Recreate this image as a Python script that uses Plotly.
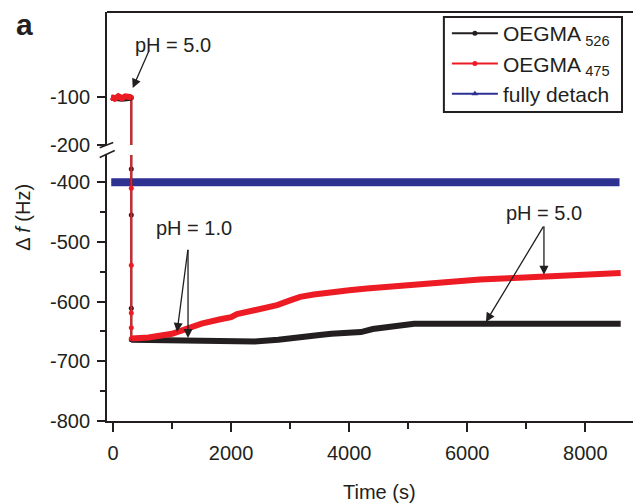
import plotly.graph_objects as go

# ---------------- data ----------------
time_pre = [-30, 30, 90, 150, 210, 270, 310]
oegma526_pre = [-101, -103, -102, -103, -102, -103, -101]
oegma475_pre = [-99, -103, -98, -102, -98, -101, -100]

time_drop_526 = [310, 310, 310, 310, 310]
oegma526_drop = [-101, -378, -455, -611, -664]
time_drop_475 = [310, 310, 310, 310, 310, 310]
oegma475_drop = [-100, -410, -539, -619, -644, -662]

time_526 = [310, 800, 1500, 2000, 2400, 2800, 3170, 3500, 3700, 4200, 4400,
            4600, 4900, 5100, 6000, 7000, 8000, 8600]
oegma526 = [-664, -665, -666, -667, -667, -664, -661, -656, -654, -651, -646,
            -643, -640, -637, -637, -637, -637, -637]

time_475 = [310, 600, 1000, 1270, 1500, 1800, 2000, 2100, 2300, 2550, 2780,
            3000, 3170, 3400, 3730, 4000, 4300, 4860, 5300, 5875, 6215, 6700,
            7280, 7800, 8300, 8600]
oegma475 = [-662, -660, -654, -644, -637, -630, -626, -621, -617, -612, -606,
            -598, -592, -588, -583, -581, -578, -573, -570, -566, -563, -561,
            -559, -556, -554, -552]

time_detach = [-30, 2000, 4000, 6000, 8580]
detach = [-400, -400, -400, -400, -400]

x_ticks = [0, 2000, 4000, 6000, 8000]
y_ticks_low = [-800, -700, -600, -500, -400]
y_ticks_high = [-200, -100]

# ---------------- style ----------------
BLACK = "#231f20"
RED = "#ed1c24"
BLUE = "#2e3192"
FONT = "Liberation Sans, Arial, sans-serif"

OFF = 8                      # default page body margin
W, H = 641 - OFF, 504 - OFF  # figure size (visible part)
L, R, T, B = 107.3 - OFF, 0, 12 - OFF, 504 - 421
PW = W - L - R
PH = H - T - B


def px2paper(sx, sy):
    """screenshot pixel -> paper coordinates"""
    return (sx - 107.3) / PW, (421 - sy) / PH


fig = go.Figure()

for yax in ("y", "y2"):
    fig.add_trace(go.Scatter(x=time_detach, y=detach, mode="lines", yaxis=yax,
                             line=dict(color=BLUE, width=8), showlegend=False,
                             hoverinfo="skip"))
    fig.add_trace(go.Scatter(x=time_drop_526, y=oegma526_drop, mode="lines+markers",
                             yaxis=yax, line=dict(color=BLACK, width=2),
                             marker=dict(size=5, color=BLACK), showlegend=False,
                             hoverinfo="skip"))
    fig.add_trace(go.Scatter(x=time_drop_475, y=oegma475_drop, mode="lines+markers",
                             yaxis=yax, line=dict(color=RED, width=2),
                             marker=dict(size=5, color=RED), showlegend=False,
                             hoverinfo="skip"))

fig.add_trace(go.Scatter(x=time_pre, y=oegma526_pre, mode="lines", yaxis="y2",
                         line=dict(color=BLACK, width=6), showlegend=False))
fig.add_trace(go.Scatter(x=time_pre, y=oegma475_pre, mode="lines", yaxis="y2",
                         line=dict(color=RED, width=6), showlegend=False))
fig.add_trace(go.Scatter(x=time_526, y=oegma526, mode="lines", yaxis="y",
                         line=dict(color=BLACK, width=6), showlegend=False))
fig.add_trace(go.Scatter(x=time_475, y=oegma475, mode="lines", yaxis="y",
                         line=dict(color=RED, width=6), showlegend=False))

# legend entries
fig.add_trace(go.Scatter(x=[None], y=[None], mode="lines+markers",
                         name="OEGMA<sub> 526</sub>",
                         line=dict(color=BLACK, width=2),
                         marker=dict(size=5, color=BLACK, symbol="circle")))
fig.add_trace(go.Scatter(x=[None], y=[None], mode="lines+markers",
                         name="OEGMA<sub> 475</sub>",
                         line=dict(color=RED, width=2),
                         marker=dict(size=5, color=RED, symbol="circle")))
fig.add_trace(go.Scatter(x=[None], y=[None], mode="lines+markers",
                         name="fully detach",
                         line=dict(color=BLUE, width=2),
                         marker=dict(size=6, color=BLUE, symbol="triangle-up")))

axis_common = dict(showline=True, linecolor=BLACK, linewidth=2, ticks="outside",
                   tickcolor=BLACK, tickwidth=1.5, showgrid=False, zeroline=False,
                   tickfont=dict(family=FONT, size=20, color=BLACK))

x0 = -(113.3 - 107.3) / 0.059
fig.update_layout(
    width=W, height=H,
    margin=dict(l=L, r=R, t=T, b=B, pad=0),
    paper_bgcolor="white", plot_bgcolor="white",
    font=dict(family=FONT, size=20, color=BLACK),
    xaxis=dict(range=[x0, x0 + PW / 0.059], tickvals=x_ticks, ticklen=9,
               ticklabelstandoff=4, anchor="y",
               minor=dict(dtick=1000, ticklen=6, tickcolor=BLACK, tickwidth=1.5,
                          ticks="outside", showgrid=False),
               **axis_common),
    yaxis=dict(domain=[0, (421 - 155) / PH], range=[-800, -800 + (421 - 155) / 0.597],
               tickvals=y_ticks_low, ticktext=[str(v) for v in y_ticks_low],
               ticklen=8, ticklabelstandoff=3,
               minor=dict(dtick=50, tick0=-800, ticklen=5, tickcolor=BLACK,
                          tickwidth=1.5, ticks="outside", showgrid=False),
               **axis_common),
    yaxis2=dict(domain=[(421 - 145) / PH, 1], range=[-200, -200 + (145 - 12) / 0.477],
                tickvals=y_ticks_high, ticktext=[str(v) for v in y_ticks_high],
                ticklen=8, ticklabelstandoff=3, anchor="x",
                **axis_common),
    showlegend=True,
    legend=dict(x=px2paper(447, 0)[0], y=px2paper(0, 13)[1],
                xanchor="left", yanchor="top",
                bgcolor="rgba(0,0,0,0)", borderwidth=0,
                font=dict(family=FONT, size=21, color=BLACK),
                tracegroupgap=0, itemwidth=46),
)


def seg(p1, p2, width=1.5):
    a = px2paper(*p1)
    b = px2paper(*p2)
    return dict(type="line", xref="paper", yref="paper", x0=a[0], y0=a[1],
                x1=b[0], y1=b[1], line=dict(color=BLACK, width=width))


lx0, ly0 = px2paper(444, 17)
lx1, ly1 = px2paper(622, 112)
shapes = [
    seg((100, 147.7), (113.5, 142.5)),
    seg((100, 157.5), (115, 150.5)),
    seg((635.5, 147.5), (642, 145)),
    seg((634.5, 158), (642, 155)),
    seg((107.3, 12), (643, 12), 2),
    dict(type="rect", xref="paper", yref="paper", x0=lx0, y0=ly0, x1=lx1, y1=ly1,
         line=dict(color=BLACK, width=2), fillcolor="white", layer="above"),
]
fig.update_layout(shapes=shapes)

ann = []
centered = dict(xref="paper", yref="paper", showarrow=False,
                xanchor="center", yanchor="middle")
tx, ty = px2paper(380, 492)
ann.append(dict(text="Time (s)", x=tx, y=ty, font=dict(size=20), **centered))
tx, ty = px2paper(23, 217)
ann.append(dict(text="\u0394 <i>f</i> (Hz)", x=tx, y=ty, textangle=-90,
                font=dict(size=20), **centered))
tx, ty = px2paper(25, 25)
ann.append(dict(text="<b>a</b>", x=tx, y=ty, font=dict(size=30), **centered))

# pH labels
ann.append(dict(text="pH = 5.0", x=1024, y=9.6, xref="x", yref="y2", showarrow=False))
ann.append(dict(text="pH = 1.0", x=1364, y=-477, xref="x", yref="y", showarrow=False))
ann.append(dict(text="pH = 5.0", x=7300, y=-452, xref="x", yref="y", showarrow=False))

arrow_style = dict(text="", showarrow=True, arrowhead=2, arrowsize=1.4,
                   arrowwidth=1.3, arrowcolor=BLACK, standoff=0, startstandoff=0)
ann.append(dict(x=334, y=-80.5, xref="x", yref="y2", ax=16.7, ay=-38.3, **arrow_style))
ann.append(dict(x=1085, y=-651, xref="x", yref="y", ax=11, ay=-83.7, **arrow_style))
ann.append(dict(x=1271, y=-661, xref="x", yref="y", ax=0, ay=-89.7, **arrow_style))
ann.append(dict(x=7300, y=-555, xref="x", yref="y", ax=0, ay=-50, **arrow_style))
ann.append(dict(x=6317, y=-634, xref="x", yref="y", ax=58.3, ay=-96.7, **arrow_style))
fig.update_layout(annotations=ann)

fig.write_html("out.html")
